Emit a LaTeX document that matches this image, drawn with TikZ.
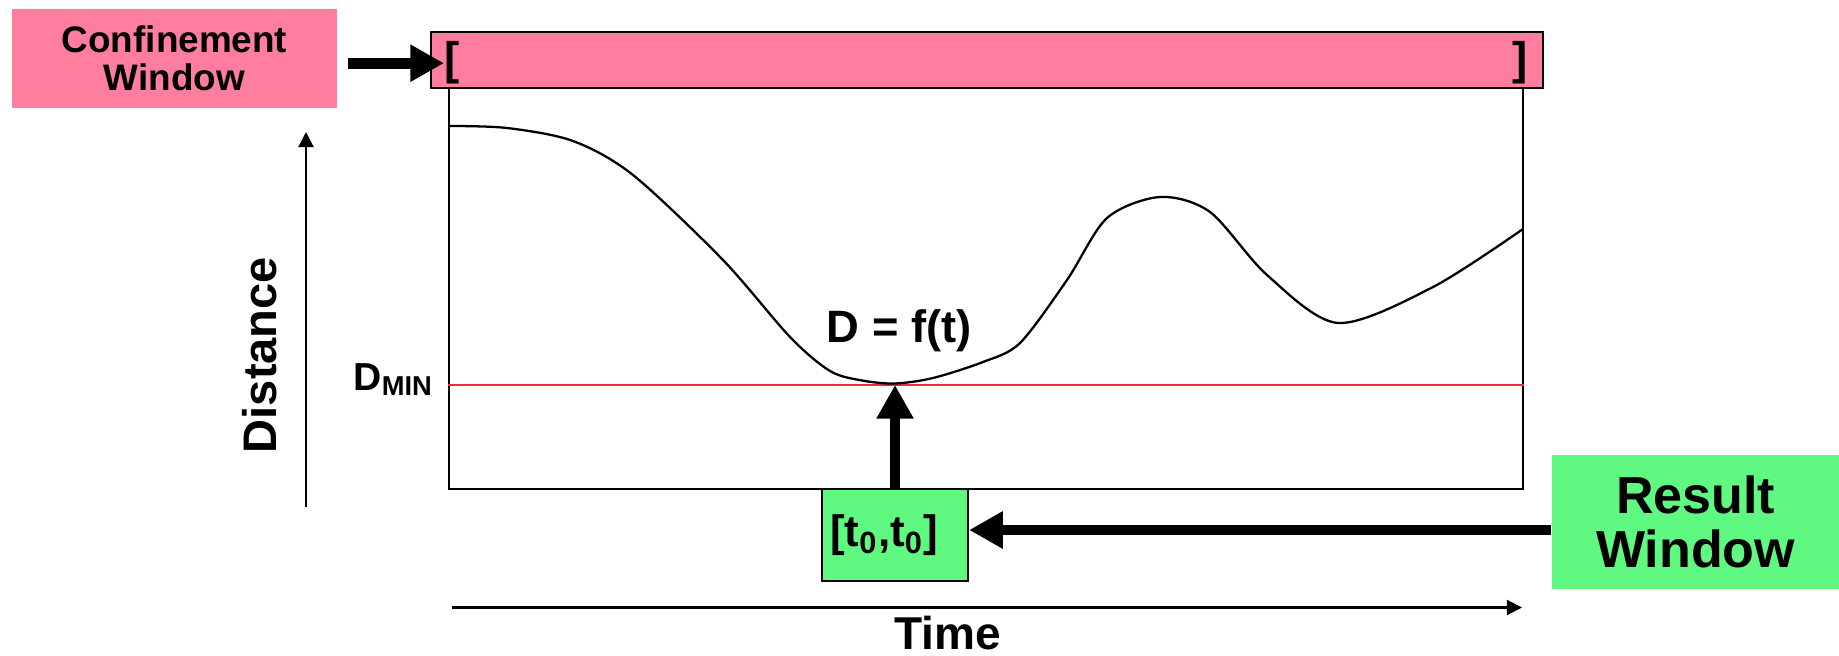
\documentclass[tikz,border=0pt]{standalone}
\usepackage{fontspec}
\setmainfont{Liberation Sans}
\usetikzlibrary{arrows.meta,positioning}
\definecolor{confpink}{RGB}{255,125,158}
\definecolor{resgreen}{RGB}{95,249,130}
\definecolor{dminred}{RGB}{250,40,60}
\newcommand{\bsz}[1]{\fontsize{#1}{#1}\selectfont\bfseries}

\begin{document}
\begin{tikzpicture}[
    lbl/.style={inner sep=0pt},
    fatarrow/.style={line width=3.1pt,-{Triangle[length=9.6pt,width=10pt]}},
    axisarrow/.style={line width=0.6pt,-{Triangle[length=4.3pt,width=4.3pt]}},
    winbox/.style={inner sep=0pt,align=center},
  ]
  \useasboundingbox (0,0) rectangle (18.39,6.55);

  % plot frame and the function
  \node[draw,line width=0.6pt,minimum width=10.74cm,minimum height=4.01cm,inner sep=0pt]
    (plotbox) at (9.86,3.665) {};
  \draw[dminred,line width=0.6pt] (plotbox.west |- 0,2.70) -- (plotbox.east |- 0,2.70);
  \draw[line width=0.65pt] plot[smooth,tension=0.5] coordinates {
    (4.49,5.29) (5.07,5.27) (5.73,5.14) (6.33,4.80) (7.23,3.95) (7.90,3.18)
    (8.30,2.84) (8.62,2.745) (8.95,2.715) (9.33,2.77) (9.83,2.93) (10.20,3.12)
    (10.67,3.75) (11.07,4.37) (11.60,4.58) (12.10,4.43) (12.67,3.80) (13.38,3.32)
    (14.33,3.68) (15.23,4.26)};
  \node[lbl,anchor=base west] (dft) at (8.26,3.12) {\bsz{12.9}D = f(t)};
  \node[lbl,anchor=base west] (dmin) at (3.53,2.65) {\bsz{11.1}D\textsubscript{MIN}};
  \coordinate (tmin) at (8.95,2.70);

  % confinement window
  \node[draw,fill=confpink,line width=0.6pt,minimum width=11.12cm,minimum height=0.56cm,inner sep=0pt]
    (cbar) at (9.87,5.95) {};
  \node[lbl,anchor=base west] (lbrk) at (4.44,5.80) {\bsz{13}[};
  \node[lbl,anchor=base east] (rbrk) at (15.28,5.80) {\bsz{13}]};
  \node[winbox,fill=confpink,minimum width=3.25cm,minimum height=0.99cm,
    font={\fontsize{10.5}{10.8}\selectfont\bfseries}] (conf) at (1.745,5.965)
    {Confinement\\Window};
  \draw[fatarrow] ([xshift=0.10cm]conf.east |- lbrk.west) -- (lbrk.west);

  % result window
  \node[draw,fill=resgreen,line width=0.6pt,minimum width=1.46cm,minimum height=0.92cm,
    inner xsep=0.08cm,text width=1.30cm,align=left] (tbox) at (8.95,1.20)
    {\bsz{12.5}[t\textsubscript{0},t\textsubscript{0}]};
  \node[winbox,fill=resgreen,minimum width=2.87cm,minimum height=1.34cm,
    font={\fontsize{14.8}{15.4}\selectfont\bfseries}] (res) at (16.955,1.33)
    {Result\\Window};
  \draw[fatarrow] ([yshift=0.05cm]res.west |- tbox.east) -- ([yshift=0.05cm]tbox.east);
  \draw[fatarrow] (tbox.north) -- (tmin);

  % axes
  \coordinate (dlow) at (3.06,1.48);
  \coordinate (dtop) at (3.06,5.23);
  \draw[axisarrow] (dlow) -- (dtop);
  \node[lbl,rotate=90] (dist) at (2.60,3.00) {\bsz{13.4}Distance};
  \coordinate (tleft) at (4.515,0.475);
  \coordinate (tright) at (15.22,0.475);
  \draw[axisarrow] (tleft) -- (tright);
  \node[lbl,anchor=base] (time) at (9.475,0.06) {\bsz{13.1}Time};
\end{tikzpicture}
\end{document}
